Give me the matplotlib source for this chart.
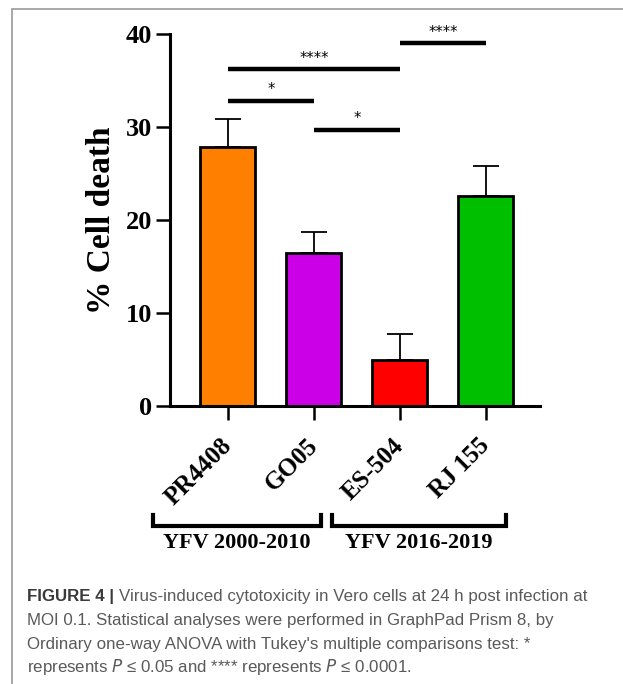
import matplotlib
matplotlib.use("Agg")
import matplotlib.pyplot as plt
import matplotlib.transforms as mtransforms
from matplotlib.patches import Rectangle
import numpy as np

# data
strains = ["PR4408", "GO05", "ES-504", "RJ 155"]
cell_death = [27.8, 16.4, 4.9, 22.6]
sem = [3.1, 2.3, 2.8, 3.2]
bar_colors = ["#ff8000", "#cc00e6", "#ff0000", "#00bf00"]

# significance comparisons (i, j, height, label)
comparisons = [
    (0, 1, 32.8, "*"),
    (0, 2, 36.2, "****"),
    (1, 2, 29.7, "*"),
    (2, 3, 39.0, "****"),
]

groups = ["YFV 2000-2010", "YFV 2016-2019"]
group_spans = [(-0.87, 1.08), (1.21, 3.24)]

caption = [
    ("FIGURE 4 | ", "Virus-induced cytotoxicity in Vero cells at 24 h post infection at"),
    ("", "MOI 0.1. Statistical analyses were performed in GraphPad Prism 8, by"),
    ("", "Ordinary one-way ANOVA with Tukey's multiple comparisons test: *"),
    ("", "represents $P$ \u2264 0.05 and **** represents $P$ \u2264 0.0001."),
]

serif = "Liberation Serif"

fig = plt.figure(figsize=(6.23, 6.84), dpi=100)
W, H = 623, 684
ax = fig.add_axes([170 / W, 1 - 406 / H, 370 / W, 372 / H])

x = np.arange(len(strains))
ax.bar(x, cell_death, width=0.64, color=bar_colors, edgecolor="black",
       linewidth=2, zorder=2)
ax.errorbar(x, cell_death, yerr=[np.zeros(len(sem)), sem], fmt="none",
            ecolor="black", elinewidth=1.3, capsize=9.5, capthick=1.3, zorder=1)

ax.set_xlim(-0.674, 3.63)
ax.set_ylim(0, 40)
ax.set_yticks([0, 10, 20, 30, 40])
ax.set_xticks(x)
ax.set_xticklabels(strains, rotation=45, ha="right", va="center",
                   rotation_mode="anchor", fontsize=18, fontweight="bold",
                   family=serif)
for lab in ax.get_yticklabels():
    lab.set_fontsize(19)
    lab.set_fontweight("bold")
    lab.set_family(serif)

for side in ["top", "right"]:
    ax.spines[side].set_visible(False)
for side in ["left", "bottom"]:
    ax.spines[side].set_linewidth(2.2)
ax.tick_params(axis="both", direction="out", length=10, width=1.8, pad=3)
ax.tick_params(axis="x", pad=16)
ax.set_ylabel("% Cell death", fontsize=24, fontweight="bold", family=serif,
              labelpad=6)

for i, j, h, lab in comparisons:
    ax.plot([x[i], x[j]], [h, h], color="black", lw=3.2, clip_on=False,
            solid_capstyle="butt")
    ax.text((x[i] + x[j]) / 2, h + 0.4, lab, ha="center", va="bottom",
            fontsize=10.5, family="DejaVu Sans", clip_on=False)

trans = mtransforms.blended_transform_factory(ax.transData, ax.transAxes)
for (a, b), name in zip(group_spans, groups):
    ax.plot([a, a, b, b], [-0.293, -0.323, -0.323, -0.293], color="black",
            lw=3, transform=trans, clip_on=False, solid_joinstyle="miter")
    ax.text((a + b) / 2, -0.342, name, transform=trans, ha="center", va="top",
            fontsize=16, fontweight="bold", family=serif)

# caption
ys = [597, 621, 644, 667]
for (bold, rest), yy in zip(caption, ys):
    t = fig.text(27 / W, 1 - yy / H, bold, fontsize=12.2, fontweight="bold",
                 family="Liberation Sans", color="#3a3a3a", va="center")
    if bold:
        fig.canvas.draw()
        bb = t.get_window_extent()
        xs = bb.x1 / fig.bbox.width
    else:
        xs = 27 / W
    fig.text(xs, 1 - yy / H, rest, fontsize=12.2, family="Liberation Sans",
             color="#5a5a5a", va="center")

fig.add_artist(Rectangle((12 / W, -0.01), 1.0, 1 - 9 / H + 0.01,
                         transform=fig.transFigure, fill=False,
                         edgecolor="#9a9a9a", lw=1.2))

fig.savefig("out.png", dpi=100)
